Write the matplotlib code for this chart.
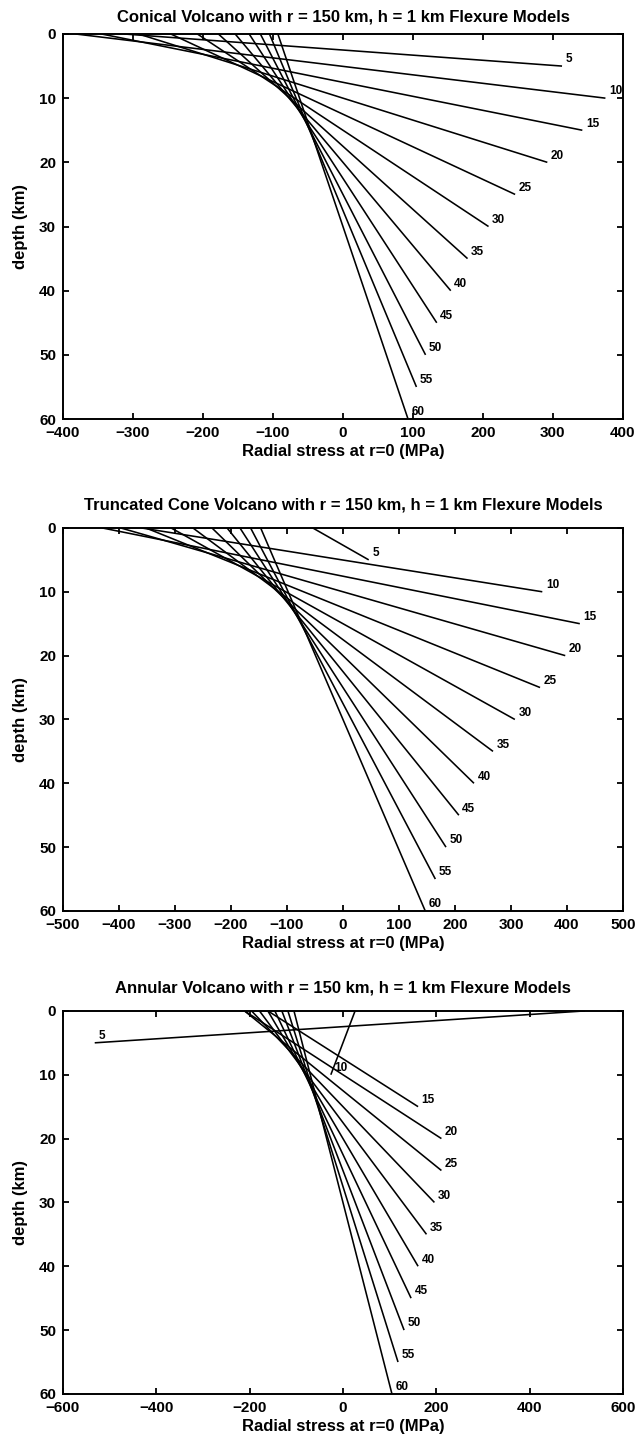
import numpy as np
import matplotlib
matplotlib.use('Agg')
import matplotlib.pyplot as plt

plt.rcParams['font.family'] = ['Liberation Sans', 'DejaVu Sans']
plt.rcParams['font.weight'] = 'bold'

# elastic thickness of each model (km) -> each line runs from depth 0 to depth Te
te = [5, 10, 15, 20, 25, 30, 35, 40, 45, 50, 55, 60]

# radial stress at r=0 (MPa), at the top (depth 0) and bottom (depth Te) of the plate
conical_top = [-313, -382, -345, -292, -246, -208, -178, -154, -134, -118, -105, -93]
conical_bottom = [313, 375, 342, 292, 246, 208, 178, 154, 134, 118, 105, 93]

truncated_top = [-54, -360, -430, -397, -352, -307, -268, -234, -207, -184, -165, -147]
truncated_bottom = [46, 356, 423, 397, 352, 307, 268, 234, 207, 184, 165, 147]

annular_top = [519, 26, -161, -211, -211, -196, -179, -161, -146, -131, -118, -105]
annular_bottom = [-532, -26, 161, 211, 211, 196, 179, 161, 146, 131, 118, 105]

titles = ['Conical Volcano with r = 150 km, h = 1 km Flexure Models',
          'Truncated Cone Volcano with r = 150 km, h = 1 km Flexure Models',
          'Annular Volcano with r = 150 km, h = 1 km Flexure Models']
xlims = [(-400, 400), (-500, 500), (-600, 600)]
xsteps = [100, 100, 200]
yticks = [0, 10, 20, 30, 40, 50, 60]

panels = [(conical_top, conical_bottom),
          (truncated_top, truncated_bottom),
          (annular_top, annular_bottom)]

fig = plt.figure(figsize=(6.37, 14.46), dpi=100)
# axes boxes in figure fractions: left, bottom, width, height
boxes = [[0.0989, 0.7102, 0.879, 0.2663],
         [0.0989, 0.3700, 0.879, 0.2649],
         [0.0989, 0.0360, 0.879, 0.2649]]
title_pads = [9, 13.5, 13.5]

for i, (tops, bottoms) in enumerate(panels):
    ax = fig.add_axes(boxes[i])
    for t, s0, s1 in zip(te, tops, bottoms):
        ax.plot([s0, s1], [0, t], color='black', lw=1.15, solid_capstyle='butt')
        ax.annotate(str(t), (s1, t), xytext=(2.5, 0.5), textcoords='offset points',
                    ha='left', va='bottom', fontsize=8.5, fontweight='bold')
    lo, hi = xlims[i]
    ax.set_xlim(lo, hi)
    ax.set_ylim(60, 0)
    ax.set_xticks(np.arange(lo, hi + 1, xsteps[i]))
    ax.set_yticks(yticks)
    ax.tick_params(direction='in', length=4, width=1.3, top=True, right=True,
                   labelsize=11)
    ax.tick_params(axis='x', pad=5)
    ax.tick_params(axis='y', pad=5)
    for lab in ax.get_xticklabels() + ax.get_yticklabels():
        lab.set_fontweight('bold')
    for sp in ax.spines.values():
        sp.set_linewidth(1.4)
    ax.set_title(titles[i], fontsize=12, fontweight='bold', pad=title_pads[i])
    ax.set_xlabel('Radial stress at r=0 (MPa)', fontsize=12, fontweight='bold', labelpad=3)
    ax.set_ylabel('depth (km)', fontsize=12, fontweight='bold', labelpad=8)

fig.savefig('out.png', dpi=100)
